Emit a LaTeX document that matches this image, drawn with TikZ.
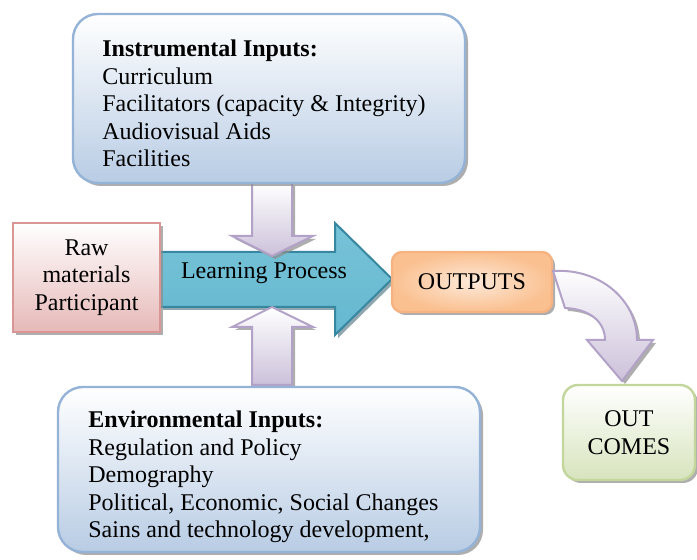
\documentclass[tikz,border=0pt]{standalone}
\usepackage{fontspec}
\setmainfont{Liberation Serif}
\usetikzlibrary{shadows}
\definecolor{blueline}{RGB}{149,179,215}
\definecolor{bluefill}{RGB}{184,204,228}
\definecolor{pinkline}{RGB}{217,150,148}
\definecolor{pinkfill}{RGB}{230,185,184}
\definecolor{lilacline}{RGB}{179,162,199}
\definecolor{lilacfill}{RGB}{204,193,218}
\definecolor{tealline}{RGB}{55,135,160}
\definecolor{tealfill}{RGB}{70,168,196}
\definecolor{teallight}{RGB}{120,195,216}
\definecolor{orangeline}{RGB}{246,178,128}
\definecolor{orangefill}{RGB}{250,192,144}
\definecolor{orangelight}{RGB}{253,233,217}
\definecolor{greenline}{RGB}{195,214,155}
\definecolor{greenfill}{RGB}{215,228,189}
\begin{document}
\begin{tikzpicture}[x=0.5pt,y=-0.5pt]
\tikzstyle{every node}+=[inner sep=0pt, font=\fontsize{12}{13.75}\selectfont]
\tikzstyle{softshadow}=[drop shadow={shadow xshift=1.5pt, shadow yshift=-1.5pt, fill=black!45, opacity=0.7}]
\tikzstyle{inputbox}=[draw=blueline, line width=1.2pt, rounded corners=12.5pt, top color=white, bottom color=bluefill, softshadow]
\tikzstyle{rawbox}=[draw=pinkline, line width=1.2pt, top color=white, bottom color=pinkfill, softshadow]
\tikzstyle{outbox}=[draw=orangeline, line width=1.2pt, rounded corners=5pt, inner color=orangelight, outer color=orangefill, softshadow]
\tikzstyle{outcomebox}=[draw=greenline, line width=1.2pt, rounded corners=7.5pt, top color=white, bottom color=greenfill, softshadow]
\tikzstyle{lilac}=[draw=lilacline, line width=1pt, top color=white, bottom color=lilacfill, softshadow]
\tikzstyle{tealarrow}=[draw=tealline, line width=1pt, top color=teallight, middle color=tealfill, bottom color=teallight!60!tealfill, drop shadow={shadow xshift=1.5pt, shadow yshift=-1.5pt, fill=tealline!60!black}]
\useasboundingbox [fill=white] (0,0) rectangle (697,560);
% learning process
\draw [tealarrow] (160,252) -- (335,252) -- (335,223) -- (392,279) -- (335,335) -- (335,307) -- (160,307) -- cycle;
\draw (264,273) node (learn) {Learning Process};
% input arrows
\draw [lilac] (252,183) -- (292,183) -- (292,236) -- (313,236) -- (272,256) -- (232,236) -- (252,236) -- cycle;
\draw [lilac] (252,385) -- (292,385) -- (292,327) -- (313,327) -- (272,307) -- (232,327) -- (252,327) -- cycle;
% boxes
\draw (269,98.5) node (inst) [inputbox, minimum width=196pt, minimum height=84.5pt] {};
\draw (102,103.5) node (instlist) [anchor=west, align=left] {\textbf{Instrumental Inputs:}\\Curriculum\\Facilitators (capacity \& Integrity)\\Audiovisual Aids\\Facilities};
\draw (269,469.5) node (env) [inputbox, minimum width=211pt, minimum height=82.5pt] {};
\draw (88,477) node (envlist) [anchor=west, align=left] {\textbf{Environmental Inputs:}\\Regulation and Policy\\Demography\\Political, Economic, Social Changes\\Sains and technology development,};
\draw (86.5,277.5) node (raw) [rawbox, minimum width=73.5pt, minimum height=54.5pt, align=center] {Raw\\materials\\Participant};
\draw (472,282) node (out) [outbox, minimum width=80pt, minimum height=30pt] {OUTPUTS};
% outputs to outcomes
\draw [lilac] (553,271) .. controls (600,268) and (637,300) .. (637,340) -- (653,340) -- (622,381) -- (587,340) -- (605,340) .. controls (605,322) and (590,309) .. (565,308) -- cycle;
\draw (629,432.5) node (outc) [outcomebox, minimum width=66pt, minimum height=47.5pt, align=center] {OUT\\COMES};
\end{tikzpicture}
\end{document}
